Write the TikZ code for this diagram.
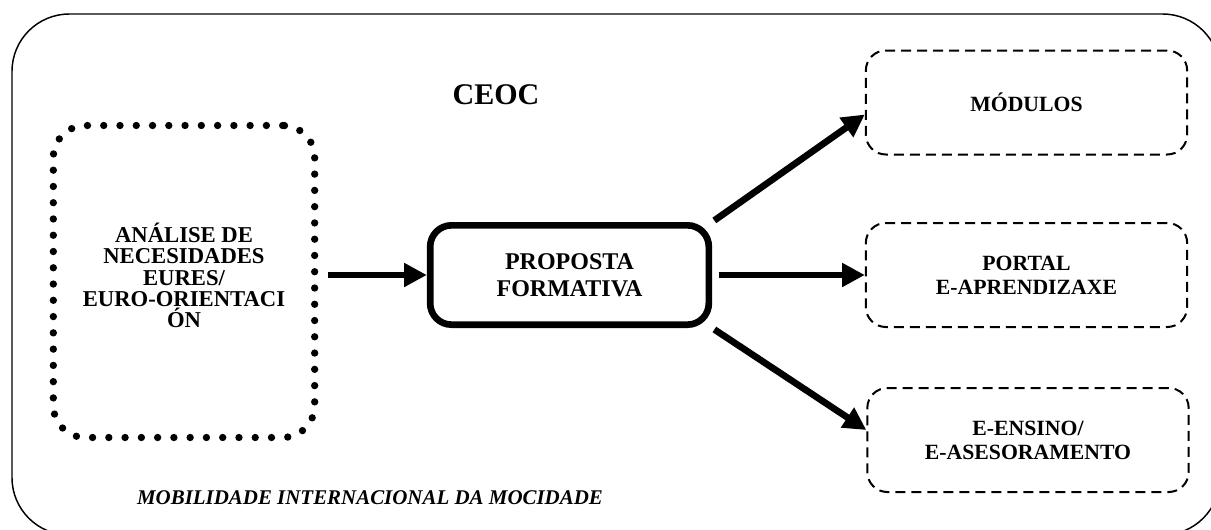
\documentclass[tikz,border=0pt]{standalone}
\usepackage{fontspec}
\setmainfont{Liberation Serif}
\usetikzlibrary{arrows.meta,positioning}

\begin{document}
\begin{tikzpicture}[x=0.75pt,y=-0.75pt,
        frame/.style={draw,line width=1.1pt,rounded corners=43pt},
        dotbox/.style={draw,line width=5.5pt,line cap=round,dash pattern=on 0pt off 12.2pt,
            rounded corners=24pt,minimum width=196pt,minimum height=234pt,align=center,
            text depth=9pt,font=\fontsize{17}{16}\selectfont\bfseries},
        mainbox/.style={draw,line width=5pt,rounded corners=16pt,minimum width=209pt,
            minimum height=74.5pt,align=center,font=\fontsize{18}{20}\selectfont\bfseries},
        dashbox/.style={draw,line width=1.5pt,dash pattern=on 7.5pt off 4.5pt,rounded corners=15pt,
            minimum width=241pt,minimum height=78pt,align=center,
            font=\fontsize{16.3}{18}\selectfont\bfseries},
        arr/.style={line width=5pt,-{Triangle[length=17pt,width=17pt]}}]
        \clip (0,0) rectangle (1211,529);
        \draw[frame] (12,14) rectangle (1220,535);
        % titles
        \node (ceoc) at (496,95) {\fontsize{22.5}{24}\selectfont\bfseries CEOC};
        \node (mob) at (370,498) {\fontsize{15.7}{18}\selectfont\bfseries\itshape MOBILIDADE INTERNACIONAL DA MOCIDADE};
        % boxes
        \node[dotbox] (anal) at (184,281.5) {AN\'ALISE DE\\NECESIDADES\\EURES/\\EURO-ORIENTACI\\\'ON};
        \node[mainbox] (prop) at (569.5,275) {PROPOSTA\\FORMATIVA};
        \node[dashbox] (mod) at (1026.5,102.5) {M\'ODULOS};
        \node[dashbox] (port) at (1026.5,275) {PORTAL\\E-APRENDIZAXE};
        \node[dashbox] (ens) at (1028,440) {E-ENSINO/\\E-ASESORAMENTO};
        % arrows
        \draw[arr,shorten <=7pt] (anal.east |- prop.west) -- (prop.west);
        \draw[arr,shorten <=5pt] (prop.east |- port.west) -- (port.west);
        \draw[arr,shorten <=2pt] (prop.north east) -- ([yshift=-9pt]mod.west);
        \draw[arr,shorten <=2pt] (prop.south east) -- ([yshift=7.5pt]ens.west);
\end{tikzpicture}
\end{document}
